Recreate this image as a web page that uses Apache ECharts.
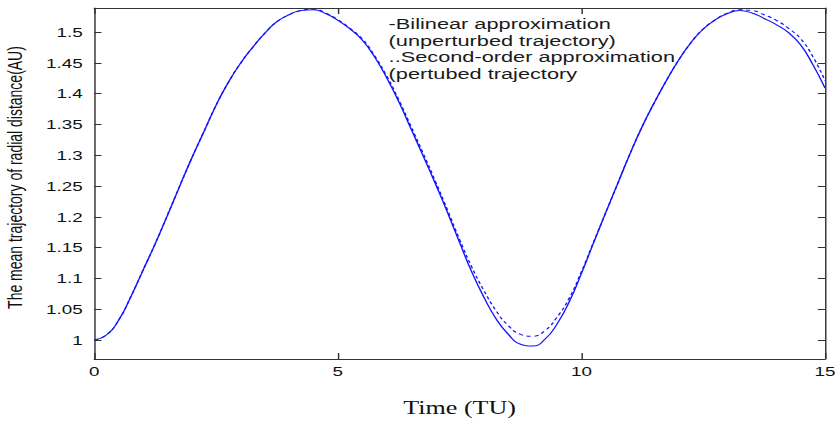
<!DOCTYPE html>
<html>
<head>
<meta charset="utf-8">
<script src="https://cdn.jsdelivr.net/npm/echarts@6/dist/echarts.min.js"></script>
<style>
	html, body { margin: 0; padding: 0; background: #fff; overflow: hidden; }
	/* the source figure is stretched sideways, so draw narrow and stretch it */
	#chart { width: 578px; height: 426px; transform: scaleX(1.45); transform-origin: 0 0; }
</style>
</head>
<body>
<div id="chart"></div>
<script>
// time (TU)
var times = [0, 0.25, 0.5, 0.75, 1, 1.25, 1.5, 1.75, 2, 2.25, 2.5, 2.75, 3, 3.25, 3.5, 3.75, 4, 4.25, 4.5, 4.75,
	5, 5.25, 5.5, 5.75, 6, 6.25, 6.5, 6.75, 7, 7.25, 7.5, 7.75, 8, 8.25, 8.5, 8.75, 9, 9.25, 9.5, 9.75,
	10, 10.25, 10.5, 10.75, 11, 11.25, 11.5, 11.75, 12, 12.25, 12.5, 12.75, 13, 13.25, 13.5, 13.75, 14, 14.25, 14.5, 14.75, 15];
/* bilinear approximation (unperturbed) */
var bilinear = [1.000, 1.008, 1.032, 1.070, 1.113, 1.156, 1.202, 1.249, 1.295, 1.338, 1.381, 1.418, 1.449, 1.475, 1.498, 1.517, 1.528, 1.535, 1.536, 1.530,
	1.519, 1.505, 1.487, 1.460, 1.426, 1.387, 1.343, 1.299, 1.254, 1.207, 1.158, 1.110, 1.069, 1.034, 1.009, 0.993, 0.990, 1.001, 1.026, 1.062,
	1.108, 1.158, 1.207, 1.255, 1.303, 1.347, 1.386, 1.422, 1.455, 1.483, 1.505, 1.520, 1.530, 1.535, 1.531, 1.522, 1.512, 1.499, 1.479, 1.447, 1.409];
/* second-order approximation (perturbed) */
var secondOrder = [1.000, 1.008, 1.032, 1.070, 1.113, 1.156, 1.202, 1.249, 1.295, 1.338, 1.381, 1.418, 1.449, 1.475, 1.498, 1.517, 1.528, 1.535, 1.537, 1.531,
	1.520, 1.506, 1.489, 1.462, 1.429, 1.390, 1.347, 1.303, 1.258, 1.211, 1.163, 1.118, 1.080, 1.047, 1.023, 1.009, 1.006, 1.015, 1.037, 1.068,
	1.111, 1.159, 1.207, 1.255, 1.303, 1.347, 1.386, 1.422, 1.455, 1.483, 1.505, 1.520, 1.531, 1.536, 1.535, 1.528, 1.519, 1.506, 1.489, 1.460, 1.421];
var yTicks = [1, 1.05, 1.1, 1.15, 1.2, 1.25, 1.3, 1.35, 1.4, 1.45, 1.5];
var legendLines = ['-Bilinear approximation', '(unperturbed trajectory)', '..Second-order approximation', '(pertubed trajectory'];

function pairs(xs, ys) {
	var out = [];
	for (var i = 0; i < xs.length; i++) out.push([xs[i], ys[i]]);
	return out;
}

var chart = echarts.init(document.getElementById('chart'), null, { renderer: 'svg' });
var axisColor = '#333333';
var font = 'Liberation Sans, Arial, sans-serif';

var option = {
	animation: false,
	grid: { left: 65, right: 9, top: 8, bottom: 67, outerBoundsMode: 'none', containLabel: false },
	xAxis: [{
		type: 'value',
		min: 0,
		max: 15,
		interval: 5,
		name: 'Time (TU)',
		nameLocation: 'middle',
		nameGap: 40,
		nameTextStyle: { fontFamily: 'Liberation Serif, Times New Roman, serif', fontSize: 18, color: '#111' },
		axisLine: { show: true, onZero: false, lineStyle: { color: axisColor, width: 1 } },
		axisTick: { inside: true, length: 6, lineStyle: { color: axisColor } },
		axisLabel: { fontFamily: font, fontSize: 13, color: '#111', margin: 6 },
		splitLine: { show: false }
	}, {
		type: 'value',
		position: 'top',
		min: 0,
		max: 15,
		interval: 5,
		axisLine: { show: true, onZero: false, lineStyle: { color: axisColor, width: 1 } },
		axisTick: { inside: true, length: 6, lineStyle: { color: axisColor } },
		axisLabel: { show: false },
		splitLine: { show: false }
	}],
	yAxis: [{
		type: 'value',
		min: 0.969,
		max: 1.539,
		name: 'The mean trajectory of radial distance(AU)',
		nameLocation: 'middle',
		nameGap: 48,
		nameTextStyle: { fontFamily: font, fontSize: 14, color: '#111', padding: [0, 0, 0, 12] },
		axisLine: { show: true, onZero: false, lineStyle: { color: axisColor, width: 1 } },
		axisTick: { inside: true, length: 5, customValues: yTicks, lineStyle: { color: axisColor } },
		axisLabel: { fontFamily: font, fontSize: 13, color: '#111', margin: 8, customValues: yTicks },
		splitLine: { show: false }
	}, {
		type: 'value',
		position: 'right',
		min: 0.969,
		max: 1.539,
		axisLine: { show: true, onZero: false, lineStyle: { color: axisColor, width: 1 } },
		axisTick: { inside: true, length: 5, customValues: yTicks, lineStyle: { color: axisColor } },
		axisLabel: { show: false },
		splitLine: { show: false }
	}],
	graphic: [{
		type: 'text',
		left: 268,
		top: 16,
		style: {
			text: legendLines.join('\n'),
			fontFamily: font,
			fontSize: 15,
			lineHeight: 16.5,
			fill: '#1a1a1a'
		}
	}],
	series: [{
		name: 'Bilinear approximation',
		type: 'line',
		smooth: 0.5,
		symbol: 'none',
		data: pairs(times, bilinear),
		lineStyle: { color: '#1414ff', width: 1 }
	}, {
		name: 'Second-order approximation',
		type: 'line',
		smooth: 0.5,
		symbol: 'none',
		data: pairs(times, secondOrder),
		lineStyle: { color: '#1414ff', width: 1, type: [3, 2.5] }
	}]
};
chart.setOption(option);
</script>
</body>
</html>
